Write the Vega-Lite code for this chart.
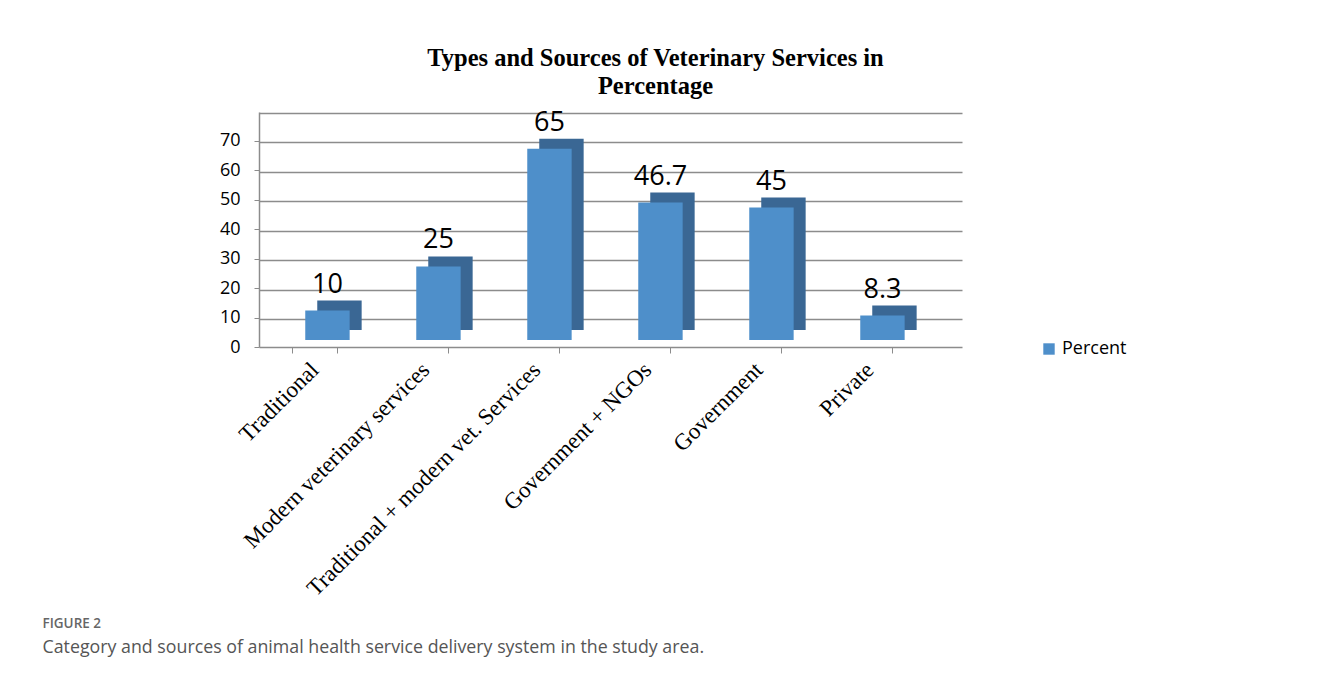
{
  "$schema": "https://vega.github.io/schema/vega-lite/v6.json",
  "autosize": "none",
  "width": 703,
  "height": 235,
  "padding": {"left": 259, "top": 112, "right": 360, "bottom": 334},
  "background": "white",
  "title": {
    "text": ["Types and Sources of Veterinary Services in", "Percentage"],
    "font": "Liberation Serif",
    "fontSize": 24.5,
    "fontWeight": "bold",
    "color": "#000000",
    "lineHeight": 28,
    "anchor": "middle",
    "frame": "group",
    "dx": 45,
    "offset": 9
  },
  "data": {
    "values": [
      {"category": "Traditional", "percent": 10},
      {"category": "Modern veterinary services", "percent": 25},
      {"category": "Traditional + modern vet. Services", "percent": 65},
      {"category": "Government + NGOs", "percent": 46.7},
      {"category": "Government", "percent": 45},
      {"category": "Private", "percent": 8.3}
    ]
  },
  "encoding": {
    "x": {
      "field": "category",
      "type": "nominal",
      "sort": null,
      "scale": {"paddingInner": 0.6, "paddingOuter": 0.4667, "align": 0.321},
      "axis": {
        "title": "Category and sources of animal health service delivery system in the study area.",
        "titleFont": "Open Sans",
        "titleFontSize": 17.8,
        "titleFontWeight": "normal",
        "titleColor": "#555555",
        "titleX": -217,
        "titleY": 300,
        "titleAlign": "left",
        "titleAnchor": "start",
        "titleBaseline": "middle",
        "labelAngle": -45,
        "labelAlign": "right",
        "labelBaseline": "middle",
        "labelFont": "Liberation Serif",
        "labelFontSize": 23,
        "labelColor": "#000000",
        "labelPadding": 13,
        "labelLimit": 400,
        "domainColor": "#8c8c8c",
        "domainWidth": 1.5,
        "tickColor": "#8c8c8c",
        "tickSize": 6,
        "tickBand": "extent",
        "grid": false
      }
    }
  },
  "layer": [
    {
      "mark": {"type": "bar", "color": "#3a6794", "xOffset": 25, "x2Offset": 25, "yOffset": -17, "y2Offset": -17},
      "encoding": {
        "y": {
          "field": "percent",
          "type": "quantitative",
          "scale": {"domain": [0, 79.85], "nice": false},
          "axis": {
            "orient": "right",
            "title": null,
            "values": [9.5, 19.5, 29.5, 39.5, 49.5, 59.5, 69.5, 79.5],
            "labels": false,
            "ticks": false,
            "domain": false,
            "grid": true,
            "gridColor": "#8c8c8c",
            "gridWidth": 1.5
          }
        }
      }
    },
    {
      "mark": {"type": "bar", "xOffset": 13, "x2Offset": 13, "yOffset": -7, "y2Offset": -7},
      "encoding": {
        "y": {
          "field": "percent",
          "type": "quantitative",
          "scale": {"domain": [0, 79.85], "nice": false},
          "axis": {
            "title": "FIGURE 2",
            "titleFont": "Open Sans",
            "titleFontSize": 13.5,
            "titleFontWeight": 600,
            "titleColor": "#666666",
            "titleAngle": 0,
            "titleX": -217,
            "titleY": 511,
            "titleAlign": "left",
            "titleBaseline": "middle",
            "values": [0, 10, 20, 30, 40, 50, 60, 70],
            "labelFont": "Open Sans",
            "labelFontSize": 18,
            "labelColor": "#000000",
            "labelPadding": 14,
            "domainColor": "#8c8c8c",
            "domainWidth": 1.5,
            "tickColor": "#8c8c8c",
            "tickSize": 5,
            "grid": false
          }
        },
        "color": {
          "datum": "Percent",
          "scale": {"range": ["#4e8fca"]},
          "legend": {
            "title": null,
            "orient": "none",
            "legendX": 781,
            "legendY": 228,
            "symbolType": "square",
            "symbolSize": 130,
            "labelFont": "Open Sans",
            "labelFontSize": 18,
            "labelColor": "#000000"
          }
        }
      }
    },
    {
      "mark": {"type": "text", "font": "Open Sans", "fontSize": 27, "color": "#000000", "baseline": "alphabetic", "dy": -25, "xOffset": 13},
      "encoding": {
        "y": {
          "field": "percent",
          "type": "quantitative",
          "scale": {"domain": [0, 79.85], "nice": false},
          "axis": null
        },
        "text": {"field": "percent", "type": "quantitative"}
      }
    }
  ],
  "resolve": {"axis": {"y": "independent"}},
  "config": {"view": {"stroke": null}}
}
